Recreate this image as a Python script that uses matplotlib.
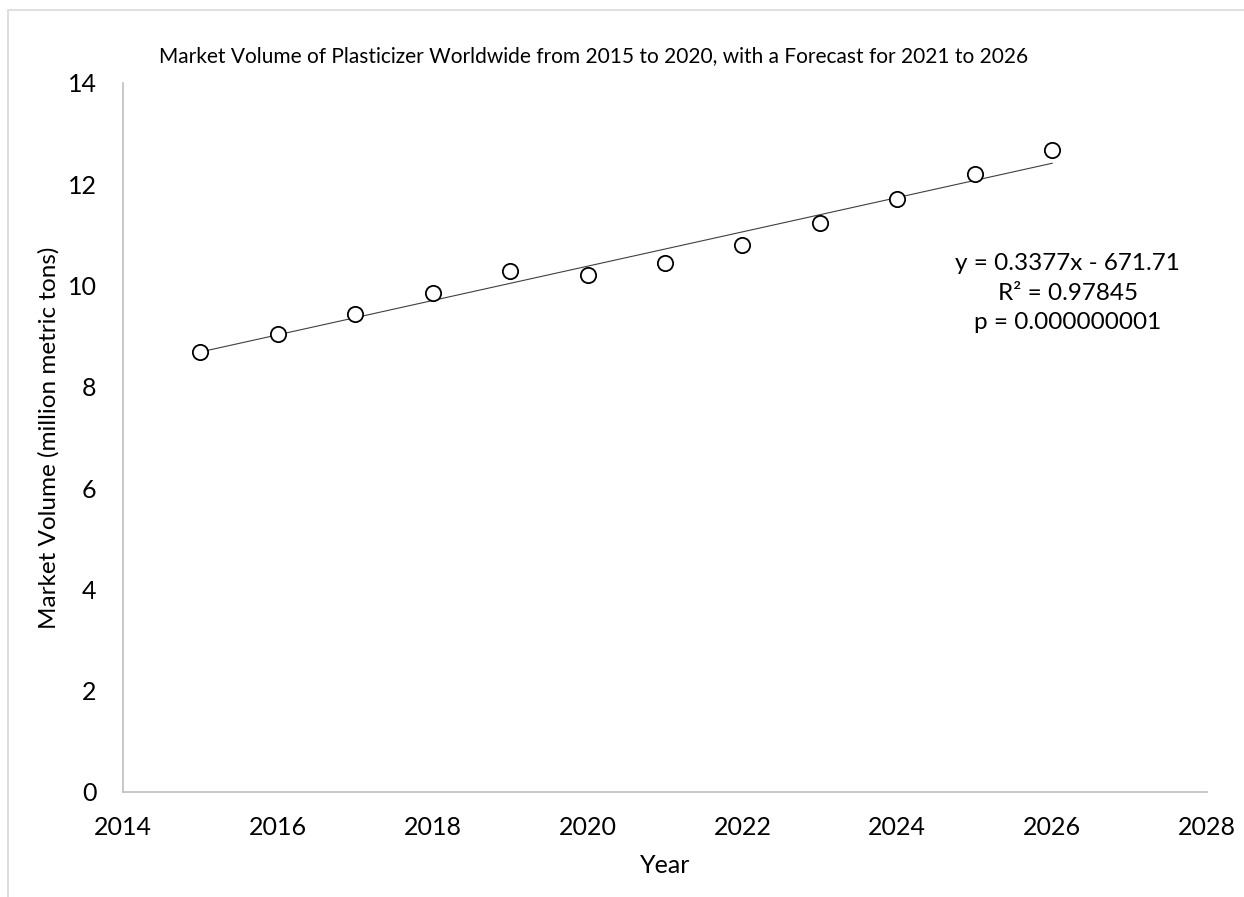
import numpy as np
import matplotlib
matplotlib.use("Agg")
import matplotlib.pyplot as plt
from matplotlib.patches import Rectangle

# Data (million metric tons)
years = [2015, 2016, 2017, 2018, 2019, 2020, 2021, 2022, 2023, 2024, 2025, 2026]
volume = [8.69, 9.05, 9.44, 9.85, 10.29, 10.21, 10.45, 10.81, 11.24, 11.71, 12.20, 12.68]
x_ticks = [2014, 2016, 2018, 2020, 2022, 2024, 2026, 2028]
y_ticks = [0, 2, 4, 6, 8, 10, 12, 14]
fit_text = "y = 0.3377x - 671.71\nR² = 0.97845\np = 0.000000001"

plt.rcParams["font.family"] = ["Lato", "DejaVu Sans"]

fig = plt.figure(figsize=(12.44, 8.97), dpi=100)
ax = fig.add_axes([0.0989, 0.1171, 0.8714, 0.7904])

# light border of the chart area
fig.patches.append(Rectangle((8 / 1244, -0.1), 1.2, 1.1 - 10 / 897,
                             transform=fig.transFigure, fill=False,
                             edgecolor="#d9d9d9", linewidth=1.2))

# trendline from a linear fit
slope, intercept = np.polyfit(years, volume, 1)
xs = np.array([years[0], years[-1]])
ax.plot(xs, intercept + slope * xs, color="#404040", linewidth=0.8, zorder=2)

ax.plot(years, volume, linestyle="none", marker="o", markersize=11,
        markerfacecolor="white", markeredgecolor="black", markeredgewidth=1.3, zorder=3)

ax.set_xlim(2014, 2028)
ax.set_ylim(0, 14)
ax.set_xticks(x_ticks)
ax.set_yticks(y_ticks)
ax.tick_params(length=0, labelsize=18)
ax.tick_params(axis="x", pad=17)
ax.tick_params(axis="y", pad=19)

for s in ["top", "right"]:
    ax.spines[s].set_visible(False)
for s in ["left", "bottom"]:
    ax.spines[s].set_color("#bfbfbf")
    ax.spines[s].set_linewidth(1.2)

ax.set_xlabel("Year", fontsize=18, labelpad=11)
ax.set_ylabel("Market Volume (million metric tons)", fontsize=17.5, labelpad=6)
fig.text(0.477, 0.938, "Market Volume of Plasticizer Worldwide from 2015 to 2020, with a Forecast for 2021 to 2026",
         ha="center", va="center", fontsize=15)

ax.text(2026.2, 9.85, fit_text, ha="center", va="center", fontsize=17.5, linespacing=1.5)

fig.savefig("out.png", dpi=100)
